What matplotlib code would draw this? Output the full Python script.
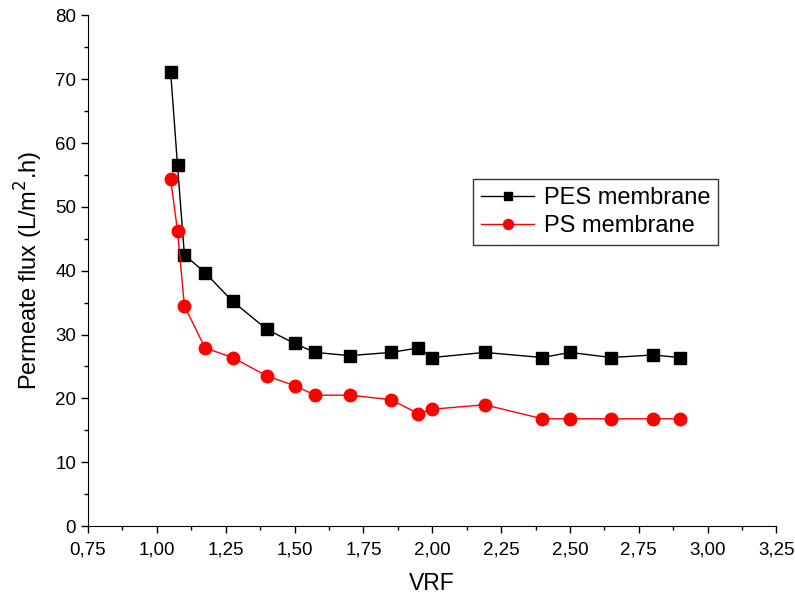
from matplotlib import pyplot as plt
from matplotlib.ticker import MultipleLocator, FuncFormatter
import numpy as np

plt.rcParams['font.family'] = ['Liberation Sans', 'DejaVu Sans']

# VRF values and permeate flux for the two membranes
vrf_pes = [1.05, 1.075, 1.1, 1.175, 1.275, 1.4, 1.5, 1.575, 1.7, 1.85, 1.95, 2.0, 2.19, 2.4, 2.5, 2.65, 2.8, 2.9]
flux_pes = [71.2, 56.5, 42.5, 39.7, 35.2, 30.8, 28.6, 27.2, 26.7, 27.2, 27.9, 26.4, 27.2, 26.4, 27.2, 26.4, 26.8, 26.4]

vrf_ps = [1.05, 1.075, 1.1, 1.175, 1.275, 1.4, 1.5, 1.575, 1.7, 1.85, 1.95, 2.0, 2.19, 2.4, 2.5, 2.65, 2.8, 2.9]
flux_ps = [54.4, 46.2, 34.5, 27.9, 26.4, 23.5, 22.0, 20.5, 20.5, 19.8, 17.6, 18.3, 19.0, 16.8, 16.8, 16.8, 16.8, 16.8]

fig = plt.figure(figsize=(7.95, 6), dpi=100)
ax = fig.add_axes([0.1107, 0.1233, 0.866, 0.851])

ax.plot(vrf_pes, flux_pes, color='black', lw=1, marker='s', ms=8, label='PES membrane')
ax.plot(vrf_ps, flux_ps, color='red', lw=1, marker='o', ms=9, label='PS membrane')

ax.set_xlim(0.75, 3.25)
ax.set_ylim(0, 80)
ax.xaxis.set_major_locator(MultipleLocator(0.25))
ax.xaxis.set_minor_locator(MultipleLocator(0.125))
ax.yaxis.set_major_locator(MultipleLocator(10))
ax.yaxis.set_minor_locator(MultipleLocator(5))
ax.xaxis.set_major_formatter(FuncFormatter(lambda v, p: f'{v:.2f}'.replace('.', ',')))

for s in ['top', 'right']:
    ax.spines[s].set_visible(False)
ax.tick_params(which='major', direction='out', length=5, width=1, labelsize=13.5)
ax.tick_params(axis='x', which='major', pad=6)
ax.tick_params(which='minor', direction='out', length=3, width=1)

ax.set_xlabel('VRF', fontsize=16.5, labelpad=10)
ax.set_ylabel('Permeate flux (L/m$^2$.h)', fontsize=17, labelpad=7)

leg = ax.legend(loc='upper left', bbox_to_anchor=(0.559, 0.68), fontsize=17, frameon=True,
                fancybox=False, edgecolor='black', handlelength=2.25, borderpad=0.35,
                labelspacing=0.25, handletextpad=0.4, markerscale=0.8, borderaxespad=0)
leg.get_frame().set_linewidth(1)

plt.savefig('out.png', dpi=100)
